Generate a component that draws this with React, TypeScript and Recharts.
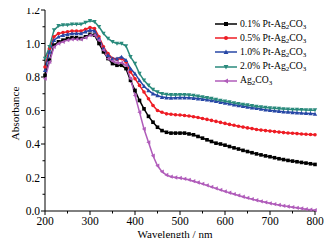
import React from 'react';
import { LineChart, Line, XAxis, YAxis } from 'recharts';

const wavelengths = [200,210,220,230,240,250,260,270,280,290,300,310,320,330,340,350,360,370,380,390,400,410,420,430,440,450,460,470,480,490,500,510,520,530,540,550,560,570,580,590,600,610,620,630,640,650,660,670,680,690,700,710,720,730,740,750,760,770,780,790,800];

const pt01 = [0.81,0.90,0.99,1.01,1.02,1.03,1.035,1.035,1.03,1.04,1.055,1.05,1.00,0.95,0.91,0.88,0.87,0.87,0.85,0.78,0.72,0.66,0.61,0.565,0.53,0.50,0.48,0.47,0.465,0.465,0.465,0.465,0.46,0.455,0.445,0.435,0.425,0.415,0.405,0.40,0.393,0.385,0.377,0.37,0.362,0.355,0.348,0.341,0.335,0.329,0.324,0.318,0.312,0.307,0.302,0.298,0.294,0.29,0.286,0.282,0.278];
const pt05 = [0.86,0.97,1.04,1.06,1.065,1.07,1.075,1.075,1.075,1.085,1.095,1.09,1.04,0.98,0.94,0.91,0.905,0.91,0.89,0.83,0.79,0.75,0.71,0.67,0.63,0.60,0.59,0.58,0.578,0.575,0.573,0.57,0.567,0.563,0.558,0.552,0.547,0.541,0.535,0.529,0.523,0.517,0.512,0.506,0.501,0.496,0.492,0.487,0.483,0.48,0.477,0.474,0.471,0.468,0.466,0.464,0.462,0.46,0.458,0.457,0.455];
const pt10 = [0.84,0.95,1.02,1.04,1.05,1.055,1.06,1.06,1.06,1.07,1.08,1.075,1.03,0.97,0.93,0.91,0.91,0.92,0.90,0.85,0.82,0.78,0.745,0.72,0.70,0.69,0.68,0.677,0.675,0.676,0.677,0.677,0.676,0.674,0.671,0.668,0.664,0.66,0.655,0.65,0.645,0.64,0.635,0.63,0.626,0.621,0.617,0.613,0.609,0.605,0.602,0.599,0.596,0.593,0.591,0.589,0.587,0.585,0.584,0.582,0.58];
const pt20 = [0.91,0.98,1.08,1.105,1.11,1.11,1.115,1.115,1.115,1.125,1.135,1.13,1.10,1.06,1.03,1.01,1.0,1.0,0.985,0.92,0.88,0.82,0.78,0.75,0.725,0.71,0.70,0.695,0.693,0.693,0.694,0.694,0.692,0.689,0.685,0.681,0.676,0.671,0.665,0.66,0.655,0.65,0.645,0.64,0.636,0.632,0.628,0.624,0.621,0.618,0.615,0.613,0.611,0.609,0.607,0.606,0.605,0.604,0.603,0.602,0.602];
const ag2co3 = [0.79,0.89,0.98,1.00,1.01,1.02,1.025,1.025,1.025,1.035,1.05,1.05,1.02,0.96,0.91,0.895,0.885,0.885,0.87,0.79,0.69,0.59,0.49,0.41,0.33,0.27,0.235,0.215,0.205,0.20,0.197,0.192,0.186,0.178,0.17,0.162,0.153,0.144,0.135,0.126,0.117,0.109,0.101,0.093,0.085,0.078,0.071,0.064,0.058,0.052,0.046,0.041,0.036,0.031,0.027,0.023,0.019,0.015,0.011,0.008,0.005];

const xMajor = [200,300,400,500,600,700,800];
const xTicks = [200,250,300,350,400,450,500,550,600,650,700,750,800];
const yMajor = [0.0,0.2,0.4,0.6,0.8,1.0,1.2];
const yTicks = [0.0,0.1,0.2,0.3,0.4,0.5,0.6,0.7,0.8,0.9,1.0,1.1,1.2];

const seriesNames = ['0.1% Pt-Ag', '0.5% Pt-Ag', '1.0% Pt-Ag', '2.0% Pt-Ag', 'Ag'];
const seriesKeys = ['s1','s2','s3','s4','s5'];
const colors = ['#000000','#ee1c24','#2747a6','#2a8a7c','#b05cba'];
const shapes = ['square','circle','triangle','invtriangle','lefttriangle'];

const data = wavelengths.map((w, i) => ({
  w, s1: pt01[i], s2: pt05[i], s3: pt10[i], s4: pt20[i], s5: ag2co3[i],
}));

const FONT = '"Liberation Serif", "Times New Roman", serif';

function Marker({ cx, cy, shape, color, r = 1.8 }: any) {
  if (cx == null || cy == null) return null;
  if (shape === 'square') return <rect x={cx - r} y={cy - r} width={2 * r} height={2 * r} fill={color} />;
  if (shape === 'circle') return <circle cx={cx} cy={cy} r={r} fill={color} />;
  if (shape === 'triangle') return <polygon points={`${cx},${cy - r * 1.2} ${cx - r * 1.2},${cy + r} ${cx + r * 1.2},${cy + r}`} fill={color} />;
  if (shape === 'invtriangle') return <polygon points={`${cx},${cy + r * 1.2} ${cx - r * 1.2},${cy - r} ${cx + r * 1.2},${cy - r}`} fill={color} />;
  return <polygon points={`${cx - r * 1.2},${cy} ${cx + r},${cy - r * 1.2} ${cx + r},${cy + r * 1.2}`} fill={color} />;
}

const majorSet = (arr: number[], v: number) => arr.some((m) => Math.abs(m - v) < 1e-6);

function YTick(props: any) {
  const { x, y, payload } = props;
  const v = payload.value;
  const major = majorSet(yMajor, v);
  const ax = x + 6;
  return (
    <g>
      <line x1={ax} x2={ax - (major ? 4 : 2.5)} y1={y} y2={y} stroke="#000" strokeWidth={1} />
      {major && (
        <text x={ax - 5} y={y} textAnchor="end" dominantBaseline="central" fontFamily={FONT} fontSize={11.5} fill="#000">
          {v.toFixed(1)}
        </text>
      )}
    </g>
  );
}

function XTick(props: any) {
  const { x, y, payload } = props;
  const v = payload.value;
  const major = majorSet(xMajor, v);
  const ay = y - 6;
  return (
    <g>
      <line x1={x} x2={x} y1={ay} y2={ay + (major ? 4 : 2.5)} stroke="#000" strokeWidth={1} />
      {major && (
        <text x={x} y={ay + 10} textAnchor="middle" dominantBaseline="central" fontFamily={FONT} fontSize={11.5} fill="#000">
          {v}
        </text>
      )}
    </g>
  );
}

function XLabel(props: any) {
  const vb = props.viewBox || {};
  return (
    <text x={vb.x + vb.width / 2 - 5} y={vb.y + 23} textAnchor="middle" dominantBaseline="central" fontFamily={FONT} fontSize={11} fill="#000">
      Wavelength / nm
    </text>
  );
}

function YLabel(props: any) {
  const vb = props.viewBox || {};
  const cx = vb.x + 15;
  const cy = vb.y + vb.height / 2 + 3;
  return (
    <text x={cx} y={cy} transform={`rotate(-90 ${cx} ${cy})`} textAnchor="middle" dominantBaseline="central" fontFamily={FONT} fontSize={11.3} fill="#000">
      Absorbance
    </text>
  );
}

function LegendBox() {
  return (
    <div style={{ position: 'absolute', left: 214, top: 17, fontFamily: FONT, fontSize: 9.7, color: '#000' }}>
      {seriesNames.map((n, i) => (
        <div key={i} style={{ display: 'flex', alignItems: 'center', height: 14.2, whiteSpace: 'nowrap', lineHeight: '10px' }}>
          <svg width={23} height={10} style={{ marginRight: 3, flexShrink: 0 }}>
            <line x1={1} x2={23} y1={5} y2={5} stroke={colors[i]} strokeWidth={1.5} />
            <Marker cx={12} cy={5} shape={shapes[i]} color={colors[i]} r={2} />
          </svg>
          <span>
            {n}<span style={{ fontSize: 7, position: 'relative', top: 2 }}>2</span>CO<span style={{ fontSize: 7, position: 'relative', top: 2 }}>3</span>
          </span>
        </div>
      ))}
    </div>
  );
}

export default function App() {
  return (
    <div style={{ margin: -8, position: 'relative', width: 332, height: 246, background: '#fff' }}>
      <LineChart width={332} height={246} data={data} margin={{ top: 10, right: 17, left: 0, bottom: 0 }}>
        <XAxis
          dataKey="w"
          type="number"
          domain={[200, 800]}
          ticks={xTicks}
          interval={0}
          tickLine={false}
          tick={<XTick />}
          axisLine={{ stroke: '#000', strokeWidth: 1 }}
          height={35}
          tickSize={6}
          tickMargin={0}
          label={<XLabel />}
        />
        <XAxis xAxisId="top" dataKey="w" type="number" domain={[200, 800]} orientation="top" height={0} tick={false} tickLine={false} axisLine={{ stroke: '#000', strokeWidth: 1 }} />
        <YAxis
          type="number"
          domain={[0, 1.2]}
          ticks={yTicks}
          interval={0}
          tickLine={false}
          tick={<YTick />}
          axisLine={{ stroke: '#000', strokeWidth: 1 }}
          width={45}
          tickSize={6}
          tickMargin={0}
          label={<YLabel />}
        />
        <YAxis yAxisId="right" orientation="right" domain={[0, 1.2]} width={0} tick={false} tickLine={false} axisLine={{ stroke: '#000', strokeWidth: 1 }} />
        {seriesKeys.map((k, i) => (
          <Line
            key={k}
            dataKey={k}
            type="linear"
            stroke={colors[i]}
            strokeWidth={1.5}
            isAnimationActive={false}
            dot={(p: any) => <Marker key={`${k}-${p.index}`} cx={p.cx} cy={p.cy} shape={shapes[i]} color={colors[i]} />}
            activeDot={false}
          />
        ))}
      </LineChart>
      <LegendBox />
    </div>
  );
}
